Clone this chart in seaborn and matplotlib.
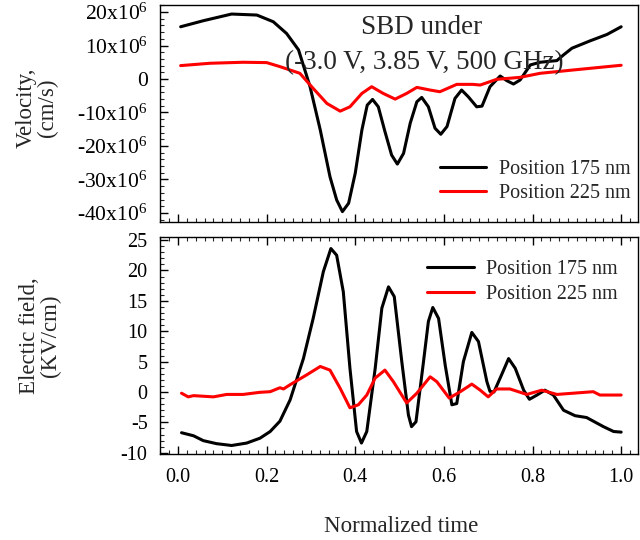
import matplotlib
matplotlib.use("Agg")
import matplotlib.pyplot as plt
from matplotlib.ticker import MultipleLocator, FuncFormatter
import seaborn as sns
import pandas as pd

# ---------------- data ----------------
# Velocity, position 175 nm (units of 1e6 cm/s)
t_vel_175 = [0.006, 0.057, 0.121, 0.178, 0.215, 0.245, 0.272, 0.298, 0.321, 0.343, 0.358, 0.371,
             0.385, 0.400, 0.415, 0.427, 0.439, 0.452, 0.467, 0.482, 0.495, 0.509, 0.524, 0.539,
             0.550, 0.565, 0.580, 0.593, 0.607, 0.625, 0.640, 0.655, 0.674, 0.686, 0.704, 0.727,
             0.742, 0.757, 0.772, 0.795, 0.817, 0.855, 0.870, 0.889, 0.930, 0.968, 1.000]
vel_175 = [15.6, 17.4, 19.4, 19.1, 17.1, 13.6, 8.7, -2.3, -15.2, -29.2, -36.1, -39.6,
           -37.1, -28.1, -15.2, -7.8, -6.1, -8.3, -15.7, -22.7, -25.4, -22.2, -13.2, -6.8,
           -5.5, -8.3, -14.7, -16.5, -14.2, -5.8, -3.3, -5.3, -8.3, -8.1, -2.3, 0.9,
           -0.5, -1.5, -0.3, 4.2, 5.0, 5.5, 7.2, 9.2, 11.4, 13.3, 15.6]

# Velocity, position 225 nm (units of 1e6 cm/s)
t_vel_225 = [0.006, 0.072, 0.147, 0.200, 0.230, 0.275, 0.305, 0.336, 0.366, 0.388, 0.415, 0.437,
             0.463, 0.490, 0.516, 0.539, 0.569, 0.591, 0.629, 0.665, 0.682, 0.719, 0.772, 0.817,
             0.892, 1.000]
vel_225 = [4.0, 4.7, 5.0, 4.9, 3.7, 1.7, -2.8, -7.3, -9.6, -8.3, -4.3, -2.3,
           -4.3, -6.0, -4.3, -2.5, -3.3, -3.8, -1.6, -1.6, -1.8, -0.1, 0.5, 1.7,
           2.7, 4.1]

# Electric field, position 175 nm (kV/cm)
t_ef_175 = [0.008, 0.035, 0.057, 0.087, 0.121, 0.155, 0.185, 0.208, 0.230, 0.253, 0.283, 0.305,
            0.328, 0.345, 0.358, 0.373, 0.388, 0.403, 0.414, 0.426, 0.445, 0.460, 0.475, 0.488,
            0.505, 0.520, 0.527, 0.537, 0.554, 0.565, 0.575, 0.588, 0.603, 0.618, 0.629, 0.644,
            0.663, 0.678, 0.697, 0.704, 0.713, 0.730, 0.746, 0.761, 0.780, 0.793, 0.810, 0.828,
            0.847, 0.870, 0.896, 0.922, 0.960, 0.983, 1.000]
ef_175 = [-6.7, -7.2, -8.0, -8.5, -8.8, -8.4, -7.6, -6.5, -4.8, -1.3, 5.5, 12.1,
          19.8, 23.6, 22.5, 16.5, 3.9, -6.5, -8.4, -6.5, 3.9, 13.8, 17.3, 15.7,
          5.0, -3.8, -5.7, -4.9, 5.0, 11.6, 13.9, 12.1, 4.4, -2.1, -1.9, 5.0,
          9.8, 8.3, 1.7, 0.1, 0.0, 2.8, 5.5, 3.9, 0.3, -1.2, -0.5, 0.3,
          -0.5, -3.0, -3.9, -4.2, -5.7, -6.5, -6.6]

# Electric field, position 225 nm (kV/cm)
t_ef_225 = [0.008, 0.023, 0.035, 0.080, 0.110, 0.147, 0.185, 0.208, 0.230, 0.238, 0.253, 0.290,
            0.321, 0.343, 0.366, 0.388, 0.407, 0.426, 0.445, 0.467, 0.486, 0.516, 0.539, 0.569,
            0.584, 0.612, 0.637, 0.663, 0.682, 0.700, 0.719, 0.749, 0.787, 0.821, 0.855, 0.937,
            0.952, 1.000]
ef_225 = [-0.2, -0.8, -0.6, -0.8, -0.4, -0.4, -0.05, 0.05, 0.7, 0.5, 1.2, 2.8,
          4.2, 3.6, 0.6, -2.6, -2.1, -0.5, 2.3, 3.6, 1.7, -1.8, -0.2, 2.5,
          1.7, -1.0, 0.05, 1.3, 0.3, -0.8, 0.5, 0.5, -0.4, 0.3, -0.4, 0.05,
          -0.5, -0.5]

series_labels = ["Position 175 nm", "Position 225 nm"]
x_ticks = [0.0, 0.2, 0.4, 0.6, 0.8, 1.0]
vel_ticks_1e6 = [-40, -30, -20, -10, 0, 10, 20]
ef_ticks = [-10, -5, 0, 5, 10, 15, 20, 25]

# ---------------- style ----------------
sns.set_style("ticks")
plt.rcParams["font.family"] = ["Liberation Serif", "DejaVu Serif"]
plt.rcParams["mathtext.fontset"] = "custom"
plt.rcParams["mathtext.rm"] = "Liberation Serif"
plt.rcParams["mathtext.it"] = "Liberation Serif:italic"
plt.rcParams["axes.unicode_minus"] = False
plt.rcParams["lines.solid_joinstyle"] = "round"
plt.rcParams["lines.solid_capstyle"] = "round"

FS = 14.5
LW = 2.2

fig = plt.figure(figsize=(6.4, 5.4), dpi=100)
W, H = 640.0, 540.0
ax1 = fig.add_axes([160 / W, 1 - 222 / H, 478 / W, 217 / H])
ax2 = fig.add_axes([160 / W, 1 - 454 / H, 478 / W, 217 / H])

df_v175 = pd.DataFrame({"t": t_vel_175, "v": [v * 1e6 for v in vel_175]})
df_v225 = pd.DataFrame({"t": t_vel_225, "v": [v * 1e6 for v in vel_225]})
df_e175 = pd.DataFrame({"t": t_ef_175, "e": ef_175})
df_e225 = pd.DataFrame({"t": t_ef_225, "e": ef_225})

sns.lineplot(data=df_v175, x="t", y="v", ax=ax1, color="black", linewidth=LW,
             label=series_labels[0], estimator=None)
sns.lineplot(data=df_v225, x="t", y="v", ax=ax1, color="#ff0000", linewidth=LW,
             label=series_labels[1], estimator=None)
sns.lineplot(data=df_e175, x="t", y="e", ax=ax2, color="black", linewidth=LW,
             label=series_labels[0], estimator=None)
sns.lineplot(data=df_e225, x="t", y="e", ax=ax2, color="#ff0000", linewidth=LW,
             label=series_labels[1], estimator=None)

xlim = (-0.0406, 1.038)
for ax in (ax1, ax2):
    ax.set_xlim(*xlim)
    ax.set_xlabel("")
    ax.set_ylabel("")
    for s in ax.spines.values():
        s.set_linewidth(1.0)
        s.set_color("black")
    ax.set_xticks(x_ticks)
    ax.xaxis.set_minor_locator(MultipleLocator(0.02))
    ax.tick_params(axis="both", which="major", direction="in", length=6, width=1.0,
                   labelsize=FS, colors="black")
    ax.tick_params(axis="both", which="minor", direction="in", length=3, width=0.8)
    ax.tick_params(axis="y", which="both", left=True, right=False, pad=9)

# top panel
ax1.set_ylim(-42.7e6, 22.1e6)
ax1.set_yticks([v * 1e6 for v in vel_ticks_1e6])
ax1.yaxis.set_minor_locator(MultipleLocator(2e6))
ax1.yaxis.set_major_formatter(FuncFormatter(
    lambda v, p: "0" if abs(v) < 1 else "%dx10$^6$" % int(round(v / 1e6))))
ax1.tick_params(axis="y", which="major", labelsize=15.5)
ax1.tick_params(axis="x", which="both", bottom=True, top=False, labelbottom=False)

# bottom panel
ax2.set_ylim(-10.2, 25.5)
ax2.set_yticks(ef_ticks)
ax2.yaxis.set_minor_locator(MultipleLocator(1))
ax2.yaxis.set_major_formatter(FuncFormatter(lambda v, p: "%d" % int(round(v))))
ax2.tick_params(axis="x", which="both", bottom=True, top=True, labelbottom=True, pad=10)
ax2.set_xticklabels(["%.1f" % v for v in x_ticks])

# legends
leg_kw = dict(frameon=False, fontsize=FS, loc="upper left", borderaxespad=0, borderpad=0,
              handlelength=2.3, handletextpad=0.6)
ax1.legend(bbox_to_anchor=(0.586, 0.285), labelspacing=0.25, **leg_kw)
ax2.legend(bbox_to_anchor=(0.559, 0.895), labelspacing=0.3, **leg_kw)

# annotation text
fig.text(422 / W, 1 - 28 / H, "SBD under", ha="center", va="center", fontsize=19.5)
fig.text(424 / W, 1 - 63 / H, "(-3.0 V, 3.85 V, 500 GHz)", ha="center", va="center",
         fontsize=19.5)

# axis labels
fig.text(37 / W, 1 - 108 / H, "Velocity,\n(cm/s)", rotation=90, ha="center", va="center",
         fontsize=16.5, linespacing=1.05)
fig.text(40 / W, 1 - 336 / H, "Electic field,\n(KV/cm)", rotation=90, ha="center",
         va="center", fontsize=16.5, linespacing=1.05)
fig.text(401 / W, 1 - 527 / H, "Normalized time", ha="center", va="center", fontsize=16.5)

fig.savefig("out.png", dpi=100)
